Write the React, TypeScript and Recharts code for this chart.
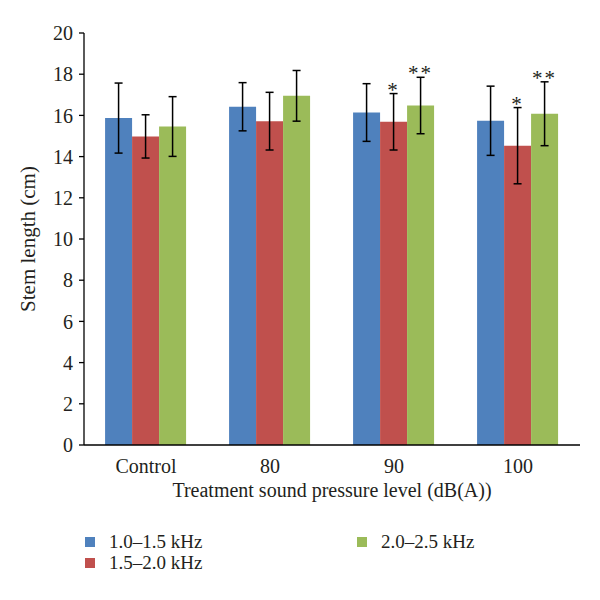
import React from 'react';
import { BarChart, Bar, XAxis, YAxis, ErrorBar, Legend, LabelList } from 'recharts';

const categories = ['Control', '80', '90', '100'];
const seriesNames = ['1.0–1.5 kHz', '1.5–2.0 kHz', '2.0–2.5 kHz'];
const seriesColors = ['#4F81BD', '#C0504D', '#9BBB59'];
const meanLow = [15.87, 16.42, 16.14, 15.74];
const meanMid = [14.98, 15.72, 15.69, 14.53];
const meanHigh = [15.46, 16.95, 16.48, 16.08];
const errLow = [1.7, 1.17, 1.4, 1.68];
const errMid = [1.05, 1.4, 1.37, 1.85];
const errHigh = [1.45, 1.23, 1.37, 1.55];
const sigMid = ['', '', '*', '*'];
const sigHigh = ['', '', '**', '**'];
const yTicks = [0, 2, 4, 6, 8, 10, 12, 14, 16, 18, 20];
const boundaryTicks = [0, 1, 2, 3, 4];

const data = categories.map((c, i) => ({
  name: c,
  low: meanLow[i],
  mid: meanMid[i],
  high: meanHigh[i],
  errLow: errLow[i],
  errMid: errMid[i],
  errHigh: errHigh[i],
  sigMid: sigMid[i],
  sigHigh: sigHigh[i],
}));

const FONT = '"Liberation Serif", "DejaVu Serif", serif';
const INK = '#231f20';

const makeSig = (means: number[], errs: number[]) => (props: any) => {
  const { x, y, width, height, value, index } = props;
  if (!value) return null;
  const pxPerUnit = Number(height) / means[index];
  const top = Number(y) - errs[index] * pxPerUnit;
  return (
    <text
      x={Number(x) + Number(width) / 2}
      y={top + 3}
      textAnchor="middle"
      fontFamily={FONT}
      fontSize={21}
      letterSpacing={2}
      fill={INK}
    >
      {value}
    </text>
  );
};

const legendPos = [
  { left: 85, top: 7 },
  { left: 85, top: 28 },
  { left: 357, top: 7 },
];

const LegendContent = () => (
  <div style={{ position: 'relative', width: 600, height: 50, fontFamily: FONT, fontSize: 19, color: INK }}>
    {seriesNames.map((n, i) => (
      <div key={n} style={{ position: 'absolute', left: legendPos[i].left, top: legendPos[i].top, display: 'flex', alignItems: 'center', whiteSpace: 'nowrap' }}>
        <span style={{ display: 'inline-block', width: 10, height: 10, background: seriesColors[i], marginRight: 14 }} />
        <span style={{ lineHeight: '10px' }}>{n}</span>
      </div>
    ))}
  </div>
);

export default function App() {
  return (
    <div style={{ position: 'absolute', left: 0, top: 0, width: 600, height: 600, background: '#fff' }}>
      <BarChart
        width={600}
        height={600}
        data={data}
        margin={{ top: 33, right: 20, bottom: 125, left: 20 }}
        barGap={0}
        barCategoryGap="17%"
      >
        <XAxis
          xAxisId="b"
          type="number"
          domain={[0, 4]}
          ticks={boundaryTicks}
          height={0}
          axisLine={false}
          tickLine={{ stroke: '#000', strokeWidth: 1.3 }}
          tickSize={6}
          tickFormatter={() => ''}
        />
        <XAxis
          xAxisId="cat"
          dataKey="name"
          height={30}
          axisLine={{ stroke: '#000', strokeWidth: 1.3 }}
          tickLine={false}
          tickMargin={8}
          tick={{ fill: INK, fontSize: 20, fontFamily: FONT }}
          label={{ value: 'Treatment sound pressure level (dB(A))', position: 'bottom', offset: 8, fill: INK, fontSize: 20, fontFamily: FONT }}
        />
        <YAxis
          width={64}
          domain={[0, 20]}
          ticks={yTicks}
          interval={0}
          axisLine={{ stroke: '#000', strokeWidth: 1.3 }}
          tickLine={{ stroke: '#000', strokeWidth: 1.3 }}
          tickSize={5}
          tickMargin={6}
          tick={{ fill: INK, fontSize: 20, fontFamily: FONT }}
          label={{ value: 'Stem length (cm)', angle: -90, position: 'insideLeft', offset: 8, style: { textAnchor: 'middle' }, fill: INK, fontSize: 21, fontFamily: FONT }}
        />
        <Legend layout="vertical" align="center" verticalAlign="middle" wrapperStyle={{ position: 'absolute', left: 0, top: 530, width: 600 }} content={LegendContent} />
        <Bar xAxisId="cat" dataKey="low" name={seriesNames[0]} fill={seriesColors[0]} isAnimationActive={false}>
          <ErrorBar dataKey="errLow" width={4} stroke="#000" strokeWidth={1.5} isAnimationActive={false} />
        </Bar>
        <Bar xAxisId="cat" dataKey="mid" name={seriesNames[1]} fill={seriesColors[1]} isAnimationActive={false}>
          <ErrorBar dataKey="errMid" width={4} stroke="#000" strokeWidth={1.5} isAnimationActive={false} />
          <LabelList dataKey="sigMid" content={makeSig(meanMid, errMid)} />
        </Bar>
        <Bar xAxisId="cat" dataKey="high" name={seriesNames[2]} fill={seriesColors[2]} isAnimationActive={false}>
          <ErrorBar dataKey="errHigh" width={4} stroke="#000" strokeWidth={1.5} isAnimationActive={false} />
          <LabelList dataKey="sigHigh" content={makeSig(meanHigh, errHigh)} />
        </Bar>
      </BarChart>
    </div>
  );
}
